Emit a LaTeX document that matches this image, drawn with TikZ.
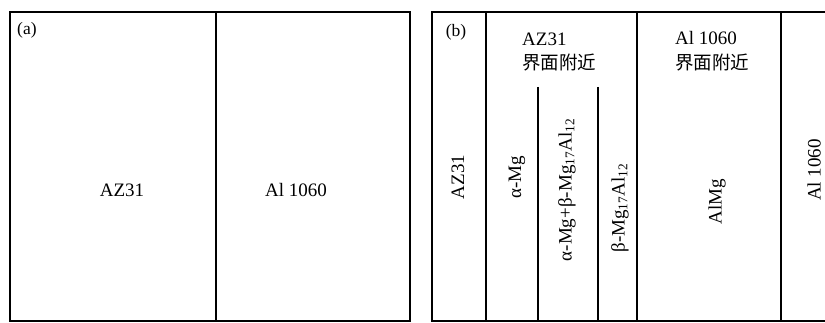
\documentclass[tikz,border=0pt]{standalone}
\usepackage{fontspec}
\setmainfont{Liberation Serif}
\newfontfamily\cjk{Noto Sans CJK SC}
\begin{document}
\begin{tikzpicture}[x=1pt,y=-1pt,
  frame/.style={line width=1.8pt, line join=miter},
  divider/.style={line width=1.6pt},
  lbl/.style={font=\fontsize{19}{22}\selectfont, inner sep=0pt},
  tag/.style={font=\fontsize{17.5}{20}\selectfont, inner sep=0pt},
  vlbl/.style={lbl, rotate=90},
  cjklbl/.style={font=\cjk\fontsize{18.5}{22}\selectfont, inner sep=0pt}]
\useasboundingbox (0,0) rectangle (825,323);
% panel (a)
\draw[frame] (10,12) rectangle (410,321);
\draw[divider] (216,12) -- (216,321);
\node[tag, anchor=west] (ta) at (17,30) {(a)};
\node[lbl] (az) at (122,190) {AZ31};
\node[lbl] (al) at (296,190) {Al 1060};
% panel (b)
\draw[frame] (825,12) -- (432,12) -- (432,321) -- (825,321);
\draw[divider] (486,12) -- (486,321);
\draw[divider] (637,12) -- (637,321);
\draw[divider] (781,12) -- (781,321);
\draw[divider] (538,87) -- (538,321);
\draw[divider] (598,87) -- (598,321);
\node[tag] (tb) at (456,32) {(b)};
\node[vlbl] (baz) at (458,177) {AZ31};
\node[lbl, anchor=base west] (h1) at (522,46) {AZ31};
\node[cjklbl, anchor=base west] (h1c) at (522,70) {界面附近};
\node[lbl, anchor=base west] (h2) at (675,45) {Al 1060};
\node[cjklbl, anchor=base west] (h2c) at (675,70) {界面附近};
\node[vlbl] (p1) at (517,177) {α-Mg};
\node[vlbl] (p2) at (567,190) {α-Mg+β-Mg\textsubscript{17}Al\textsubscript{12}};
\node[vlbl] (p3) at (620,208) {β-Mg\textsubscript{17}Al\textsubscript{12}};
\node[vlbl] (p4) at (717,202) {AlMg};
\node[vlbl] (bal) at (814,170) {Al 1060};
\end{tikzpicture}
\end{document}
